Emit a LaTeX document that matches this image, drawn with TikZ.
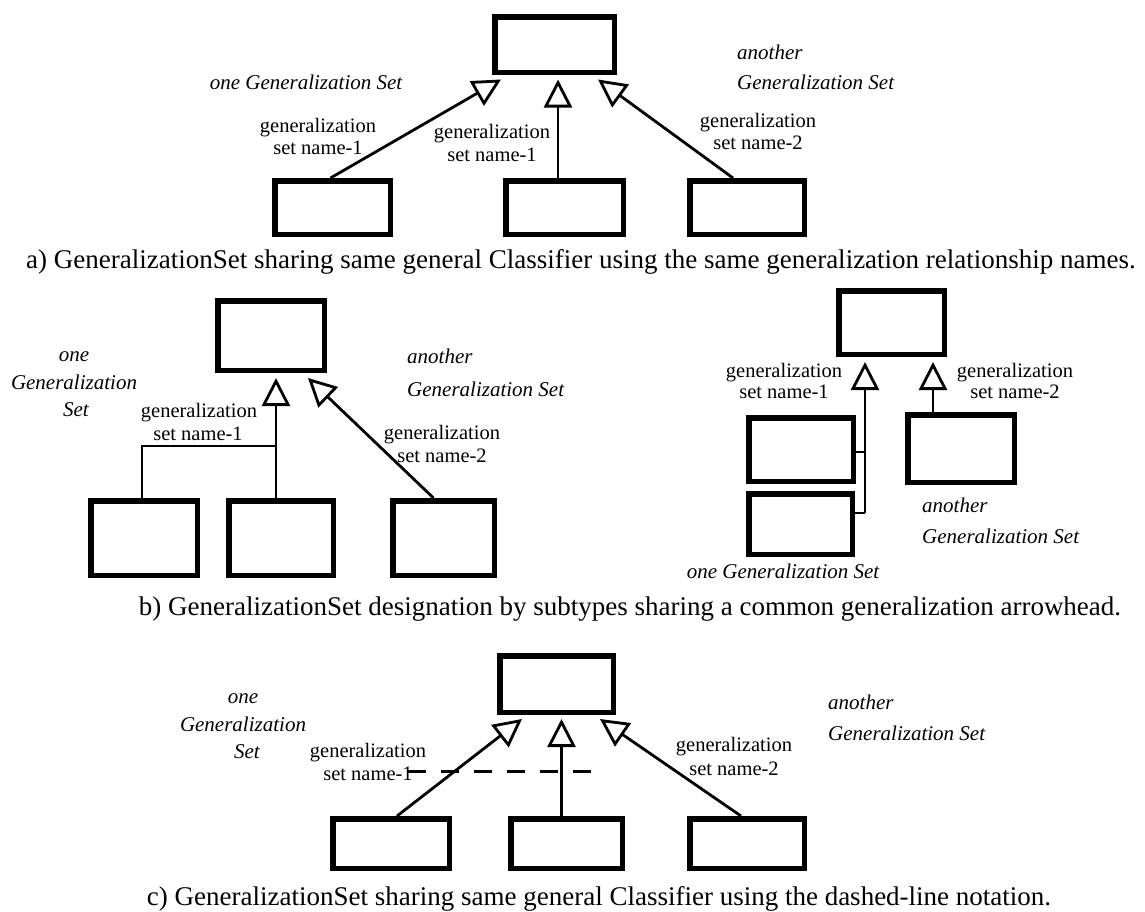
\documentclass[tikz,border=0pt]{standalone}
\usepackage{fontspec}
\setmainfont{Liberation Serif}
\usetikzlibrary{arrows.meta,calc}
\begin{document}
\begin{tikzpicture}[x=1pt,y=-1pt,
  box/.style 2 args={draw,line width=5.5pt,inner sep=0pt,minimum width=#1pt,minimum height=#2pt},
  gen/.style={line width=2.8pt,-{Triangle[open,length=28pt,width=28pt,line width=2.8pt]}},
  wire/.style={line width=2.8pt},
  dashline/.style={line width=3pt,dash pattern=on 18pt off 15pt},
  lbl/.style={font=\fontsize{20.5}{23}\selectfont,inner sep=0pt,anchor=base},
  itl/.style={font=\fontsize{21}{25}\selectfont\itshape,inner sep=0pt,anchor=base},
  itlw/.style={itl,anchor=base west},
  captxt/.style={font=\fontsize{27}{30}\selectfont,inner sep=0pt,anchor=base}]
\useasboundingbox (0,0) rectangle (1145,911);
\fill[white] (0,0) rectangle (1145,911);

% ---------- a) shared general classifier, same relationship names ----------
\node[box={119.5}{55.5}] (a0) at (554.5,44.5) {};
\node[box={115.5}{53.5}] (a1) at (332.5,207.5) {};
\node[box={117.5}{53.5}] (a2) at (564.5,207.5) {};
\node[box={114.5}{53.5}] (a3) at (747,207.5) {};
\coordinate (a0l) at ($(a0.south west)+(9,4.5)$);
\coordinate (a0m) at ($(a0.south)+(3.5,4.5)$);
\coordinate (a0r) at ($(a0.south east)+(-19,4.5)$);
\draw[gen] ($(a1.north)+(-2,0)$) -- (a0l);
\draw[gen] (a2.north -| a0m) -- (a0m);
\draw[gen] ($(a3.north)+(-14,0)$) -- (a0r);
\node[itl] (aone) at (306,89) {one Generalization Set};
\node[itlw] (aan1) at (737,59) {another};
\node[itlw] (aan2) at (737,89) {Generalization Set};
\node[lbl] (al1a) at (318,132) {generalization};
\node[lbl] (al1b) at (318,154) {set name-1};
\node[lbl] (al2a) at (492,138) {generalization};
\node[lbl] (al2b) at (492,161) {set name-1};
\node[lbl] (al3a) at (758,127) {generalization};
\node[lbl] (al3b) at (758,149) {set name-2};
\node[captxt] (capa) at (581,268) {a) GeneralizationSet sharing same general Classifier using the same generalization relationship names.};

% ---------- b) shared arrowhead (left) ----------
\node[box={106.5}{69.5}] (b0) at (271,335.5) {};
\node[box={106.5}{74.5}] (b1) at (144,538) {};
\node[box={104.5}{74.5}] (b2) at (281,538) {};
\node[box={101.5}{74.5}] (b3) at (443.5,538) {};
\coordinate (b0m) at ($(b0.south)+(5,5)$);
\coordinate (b0r) at ($(b0.south east)+(-19,5)$);
\coordinate (bj) at (276,446);
\draw[gen] (b2.north -| b0m) -- (b0m);
\draw[wire] ($(b1.north)+(-2,0)$) |- (bj);
\draw[gen] ($(b3.north)+(-10,0)$) -- (b0r);
\node[itl] (bone1) at (74,361) {one};
\node[itl] (bone2) at (74,389) {Generalization};
\node[itl] (bone3) at (76,416) {Set};
\node[itlw] (ban1) at (407,363) {another};
\node[itlw] (ban2) at (407,396) {Generalization Set};
\node[lbl] (bl1a) at (199,417) {generalization};
\node[lbl] (bl1b) at (198,440) {set name-1};
\node[lbl] (bl2a) at (442,439) {generalization};
\node[lbl] (bl2b) at (442,462) {set name-2};

% ---------- b) shared arrowhead (right) ----------
\node[box={105.5}{63.5}] (r0) at (891.5,322.5) {};
\node[box={104.5}{63.5}] (rA) at (801,449.5) {};
\node[box={103.5}{60.5}] (rB) at (800.5,524) {};
\node[box={106.5}{67.5}] (rC) at (961,448.5) {};
\coordinate (r0l) at ($(r0.south west)+(29,5)$);
\coordinate (r0r) at ($(r0.south east)+(-14,5)$);
\coordinate (rj) at (r0l |- 0,513);
\draw[gen] (rj) -- (r0l);
\draw[wire] (rA.east |- 0,452) -- (r0l |- 0,452);
\draw[wire] (rB.east |- rj) -- (rj);
\draw[gen] (rC.north -| r0r) -- (r0r);
\node[lbl] (rl1a) at (784,377) {generalization};
\node[lbl] (rl1b) at (784,398) {set name-1};
\node[lbl] (rl2a) at (1015,377) {generalization};
\node[lbl] (rl2b) at (1015,398) {set name-2};
\node[itlw] (ran1) at (922,512) {another};
\node[itlw] (ran2) at (922,543) {Generalization Set};
\node[itl] (rone) at (783,578) {one Generalization Set};
\node[captxt] (capb) at (630,615) {b) GeneralizationSet designation by subtypes sharing a common generalization arrowhead.};

% ---------- c) dashed-line notation ----------
\node[box={113.5}{56.5}] (c0) at (556.5,684) {};
\node[box={116.5}{49.5}] (c1) at (391,843.5) {};
\node[box={111.5}{49.5}] (c2) at (566.5,843.5) {};
\node[box={114.5}{49.5}] (c3) at (747,843.5) {};
\coordinate (c0l) at ($(c0.south west)+(25,4)$);
\coordinate (c0m) at ($(c0.south)+(5,4)$);
\coordinate (c0r) at ($(c0.south east)+(-16,4)$);
\draw[gen] ($(c1.north)+(6,0)$) -- (c0l);
\draw[gen] (c2.north -| c0m) -- (c0m);
\draw[gen] ($(c3.north)+(-6,0)$) -- (c0r);
\coordinate (cd1) at (408,771);
\coordinate (cd2) at (597,771);
\draw[dashline] (cd1) -- (cd2);
\node[itl] (cone1) at (243,703) {one};
\node[itl] (cone2) at (243,731) {Generalization};
\node[itl] (cone3) at (247,758) {Set};
\node[lbl] (cl1a) at (368,757) {generalization};
\node[lbl] (cl1b) at (368,780) {set name-1};
\node[lbl] (cl2a) at (734,751) {generalization};
\node[lbl] (cl2b) at (734,775) {set name-2};
\node[itlw] (can1) at (828,709) {another};
\node[itlw] (can2) at (828,740) {Generalization Set};
\node[captxt] (capc) at (599,905) {c) GeneralizationSet sharing same general Classifier using the dashed-line notation.};
\end{tikzpicture}
\end{document}
